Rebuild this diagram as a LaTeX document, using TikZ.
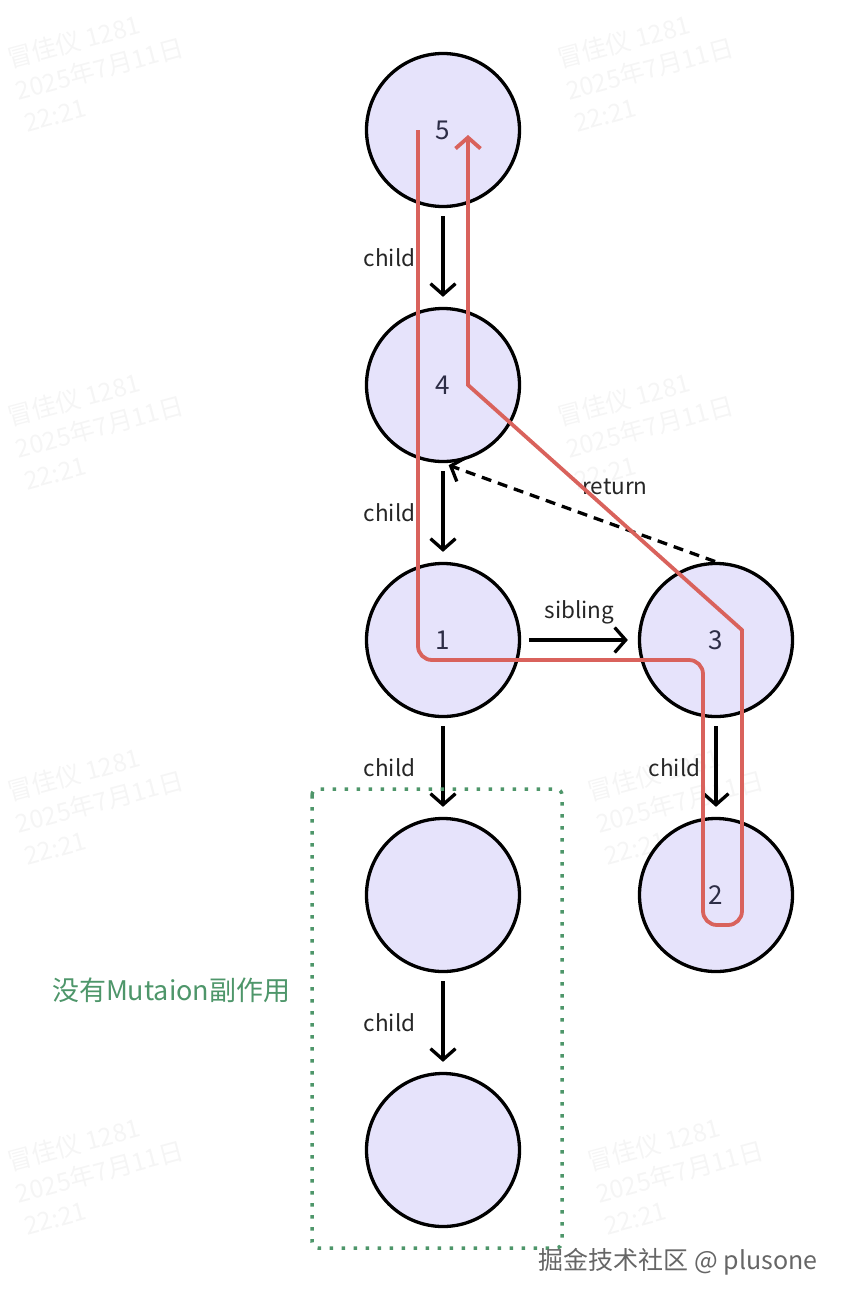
\documentclass[tikz,border=0pt]{standalone}
\usepackage{fontspec}
\setmainfont{Noto Sans CJK SC}
\usetikzlibrary{arrows.meta}
\definecolor{nodefill}{RGB}{230,227,251}
\definecolor{tracered}{RGB}{217,98,92}
\definecolor{mutgreen}{RGB}{78,150,106}
\definecolor{numtext}{RGB}{45,45,70}

\begin{document}
\begin{tikzpicture}[x=1pt,y=1pt,->,>={Straight Barb[length=11pt,width=25pt]},line width=3.3pt,shorten >=10pt,shorten <=8pt,node distance=255pt,
  main node/.style={circle,draw,fill=nodefill,minimum size=153pt,inner sep=0pt,font=\fontsize{26}{30}\selectfont,text=numtext},
  lbl/.style={font=\fontsize{22.5}{26}\selectfont,text=black!85,inner sep=2pt},
  wmark/.style={font=\fontsize{25}{33}\selectfont,text=black!4,align=left,rotate=15,anchor=north west,inner sep=0pt},
  mutbox/.style={-,mutgreen,line width=3.5pt,dash pattern=on 3.5pt off 8.5pt,rounded corners=6pt}]

  \useasboundingbox (0,0) rectangle (846,-1304);

  % watermarks
  \foreach \wx/\wy in {3/47,553/47,3/405,553/405,3/780,583/780,3/1150,583/1150}
    \node[wmark] at (\wx,-\wy) {冒佳仪 1281\\2025年7月11日\\22:21};

  \node[main node] (5) at (443,-130) {5};
  \node[main node] (4) [below of=5] {4};
  \node[main node] (1) [below of=4] {1};
  \node[main node] (3) [right of=1,node distance=273pt] {3};
  \node[main node] (2) [below of=3] {2};
  \node[main node] (6) [below of=1] {};
  \node[main node] (7) [below of=6] {};

  \path (5) edge node[lbl,left=24pt] {child} (4)
        (4) edge node[lbl,left=24pt] {child} (1)
        (1) edge node[lbl,left=24pt] {child} (6)
        (6) edge node[lbl,left=24pt] {child} (7)
        (3) edge node[lbl,left=12pt] {child} (2)
        (1) edge node[lbl,above=12pt] {sibling} (3);

  \draw[dash pattern=on 10pt off 7pt,shorten <=1pt,shorten >=6pt] (3.north) -- node[lbl,pos=0.37,above=27pt] {return} (4.south);

  % traversal
  \draw[tracered,line width=3.8pt,shorten >=0pt,shorten <=0pt,rounded corners=14pt]
    ([xshift=-25pt]5.center) -- ([xshift=-25pt,yshift=-20pt]1.center)
    -- ([xshift=-13pt,yshift=-20pt]3.center) -- ([xshift=-13pt,yshift=-30pt]2.center)
    -- ([xshift=26pt,yshift=-30pt]2.center) [sharp corners]
    -- ([xshift=26pt,yshift=10pt]3.center) -- ([xshift=25pt]4.center)
    -- ([xshift=25pt,yshift=-5pt]5.center);

  \coordinate (boxnw) at ([xshift=-131pt,yshift=106pt]6.center);
  \coordinate (boxse) at ([xshift=119pt,yshift=-98pt]7.center);
  \draw[mutbox] (boxnw) rectangle (boxse);
  \node[font=\fontsize{27}{32}\selectfont,text=mutgreen,inner sep=2pt,anchor=east] (mutlbl) at ([xshift=-18pt,yshift=-201pt]boxnw) {没有Mutaion副作用};

  \node[font=\fontsize{25}{30}\selectfont,text=black!60] (juejin) at (678,-1262) {掘金技术社区 @ plusone};
\end{tikzpicture}
\end{document}
